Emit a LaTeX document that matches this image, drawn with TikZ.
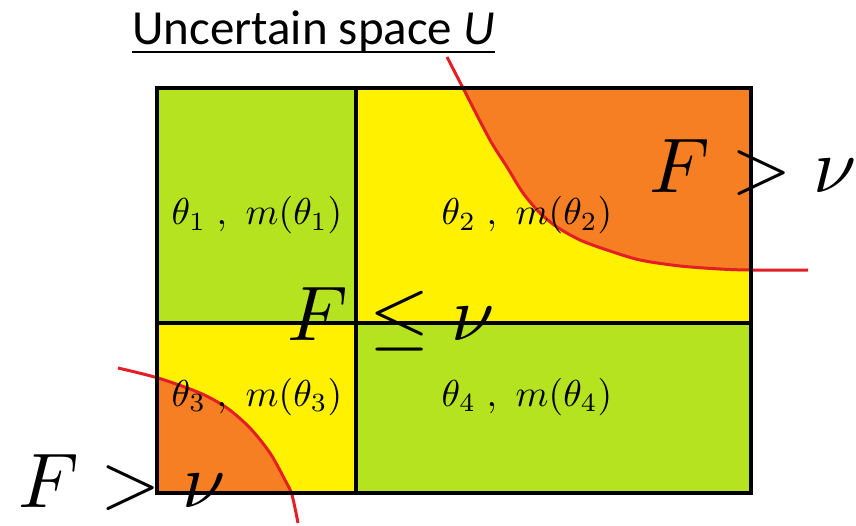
\documentclass[tikz,border=0pt]{standalone}
\usepackage{fontspec}
\newfontfamily\carlito{Carlito}
\definecolor{cgreen}{RGB}{181,227,31}
\definecolor{cyellow}{RGB}{255,241,0}
\definecolor{corange}{RGB}{247,127,35}
\definecolor{cred}{RGB}{228,30,38}
\tikzset{
  border/.style={draw=black,line width=4pt},
  divider/.style={draw=black,line width=3.5pt},
  redcurve/.style={draw=cred,line width=3pt},
  thetalabel/.style={inner sep=0pt,anchor=base,scale=3.75},
  biglabel/.style={inner sep=0pt,anchor=base west,scale=7.75},
  titlelabel/.style={inner sep=0pt,anchor=base west,font=\carlito\fontsize{49}{58}\selectfont}
}
\def\upcurve{(447,57) (463,88) (490,140) (507,167) (523,193) (540,213) (557,227) (580,240) (607,250) (640,260) (680,266) (720,269) (750,270) (808,270)}
\def\lowcurve{(118,368) (158,378) (200,393) (227,408) (250,428) (270,453) (285,480) (292,495) (298,523)}
\begin{document}
\begin{tikzpicture}[x=1pt,y=-1pt]
\useasboundingbox[fill=white] (0,0) rectangle (856,526);
% cell fills
\fill[cgreen]  (157,88)  rectangle (356,323);
\fill[cyellow] (356,88)  rectangle (751,323);
\fill[cyellow] (157,323) rectangle (356,493);
\fill[cgreen]  (356,323) rectangle (751,493);
% orange regions
\begin{scope}
  \clip (356,88) rectangle (751,323);
  \fill[corange] plot[smooth] coordinates {\upcurve} -- (808,40) -- cycle;
\end{scope}
\begin{scope}
  \clip (157,323) rectangle (356,493);
  \fill[corange] plot[smooth] coordinates {\lowcurve} -- (0,527) -- (0,368) -- cycle;
\end{scope}
% red curves
\draw[redcurve] plot[smooth] coordinates {\upcurve};
\draw[redcurve] plot[smooth] coordinates {\lowcurve};
% cell labels
\node[thetalabel] (t1) at (257,225) {$\theta_1\mkern5mu,\mkern6mu m(\theta_1)$};
\node[thetalabel] (t2) at (527,225) {$\theta_2\mkern5mu,\mkern6mu m(\theta_2)$};
\node[thetalabel] (t3) at (257,406) {$\theta_3\mkern5mu,\mkern6mu m(\theta_3)$};
\node[thetalabel] (t4) at (527,406) {$\theta_4\mkern5mu,\mkern6mu m(\theta_4)$};
% big labels
\node[biglabel] (fgt1) at (648,193) {$F>\nu$};
\node[biglabel] (fle)  at (286,340) {$F\leq\nu$};
\node[biglabel] (fgt2) at (17,507)  {$F>\nu$};
% grid lines
\draw[divider] (356,88) -- (356,493);
\draw[divider] (157,323) -- (751,323);
\draw[border] (157,88) rectangle (751,493);
% title
\node[titlelabel] (title) at (132,45) {Uncertain space \textit{U}};
\draw[line width=2.5pt] ([yshift=-7pt]title.base west) -- ([yshift=-7pt]title.base east);
\end{tikzpicture}
\end{document}
